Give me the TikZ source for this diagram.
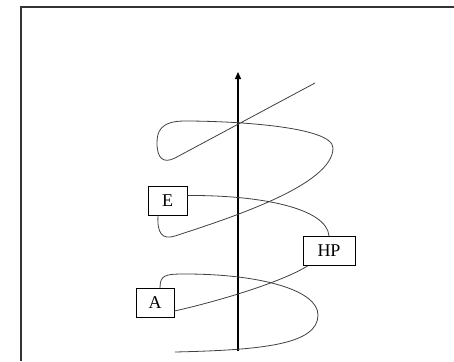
\documentclass[tikz,border=0pt]{standalone}
\usepackage{fontspec}
\setmainfont{Liberation Serif}
\usetikzlibrary{arrows.meta}

\tikzset{
  lbl/.style={draw, line width=0.9pt, minimum height=29pt, inner sep=0pt, font=\fontsize{18}{20}\selectfont},
  wire/.style={draw=black!75, line width=0.8pt},
}

\begin{document}
\begin{tikzpicture}[x=1pt, y=-1pt]

		\useasboundingbox (0,0) rectangle (454,361);
		\draw[line width=1.3pt, black!80] (21,361) -- (21,7) -- (454,7);

		% axis
		\coordinate (bot) at (238,351);
		\coordinate (top) at (238,72);
		\draw[line width=1.3pt, -{Triangle[length=7pt, width=6pt]}] (bot) -- (top);

		\node[lbl, minimum width=39pt] (E) at (167.5,200.5) {E};
		\node[lbl, minimum width=52pt] (hp) at (329,251) {HP};
		\node[lbl, minimum width=38pt] (A) at (155,303) {A};

		\coordinate (end1) at (315,83);
		\coordinate (end2) at (175,352);

		% upper loop, from E round to the top
		\draw[wire] ([xshift=-9.5pt]E.south) .. controls (157,233) and (162,240) .. (175,236)
			.. controls (230,218) and (333,185) .. (333,148)
			.. controls (333,126) and (230,121) .. (185,121)
			.. controls (160,121) and (157,132) .. (157,143)
			.. controls (157,158) and (163,164) .. (175,158) -- (end1);

		\draw[wire] ([yshift=5pt]E.east) .. controls (260,195) and (327,208) .. (hp.north);

		\draw[wire] ([xshift=5pt]hp.south west) .. controls (280,283) and (215,302) .. ([yshift=-8pt]A.east);

		% lower loop, from A down to the foot of the axis
		\draw[wire] ([xshift=5pt]A.north) .. controls (160,275) and (165,274) .. (185,274)
			.. controls (260,274) and (318,290) .. (318,315)
			.. controls (318,345) and (260,350) .. (end2);

\end{tikzpicture}
\end{document}
